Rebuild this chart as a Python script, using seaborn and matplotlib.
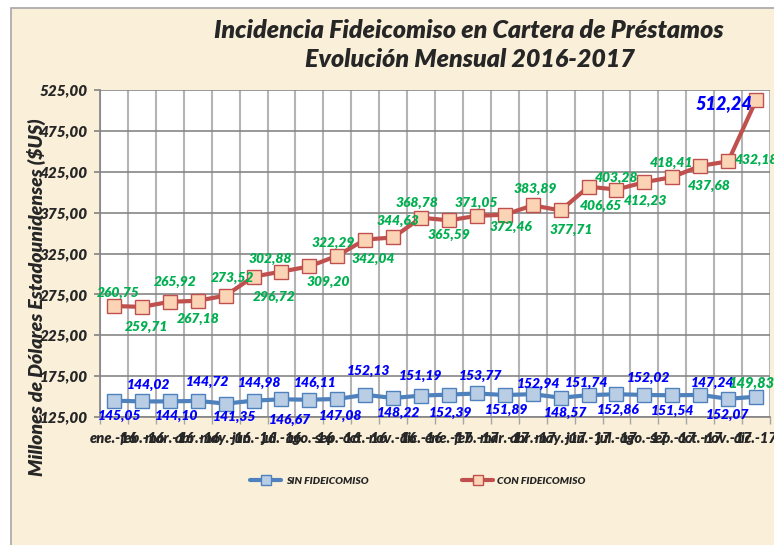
import matplotlib
matplotlib.use('Agg')
import matplotlib.pyplot as plt
from matplotlib.patches import Rectangle
from matplotlib.ticker import FixedLocator, FuncFormatter
import numpy as np
import pandas as pd
import seaborn as sns

# ----- Data -----

months = ['ene.-16', 'feb.-16', 'mar.-16', 'abr.-16', 'may.-16', 'jun.-16',
          'jul.-16', 'ago.-16', 'sep.-16', 'oct.-16', 'nov.-16', 'dic.-16',
          'ene.-17', 'feb.-17', 'mar.-17', 'abr.-17', 'may.-17', 'jun.-17',
          'jul.-17', 'ago.-17', 'sep.-17', 'oct.-17', 'nov.-17', 'dic.-17']

sin_fideicomiso = [145.05, 144.02, 144.10, 144.72, 141.35, 144.98, 146.67, 146.11,
                   147.08, 152.13, 148.22, 151.19, 152.39, 153.77, 151.89, 152.94,
                   148.57, 151.74, 152.86, 152.02, 151.54, 152.07, 147.24, 149.83]

con_fideicomiso = [260.75, 259.71, 265.92, 267.18, 273.52, 296.72, 302.88, 309.20,
                   322.29, 342.04, 344.63, 368.78, 365.59, 371.05, 372.46, 383.89,
                   377.71, 406.65, 403.28, 412.23, 418.41, 432.18, 437.68, 512.24]

y_ticks = [125, 175, 225, 275, 325, 375, 425, 475, 525]

# ----- Label placement (pixel offsets from each point) -----

con_offsets = [(4, 13), (5, -20), (5, 20), (1, -18), (7, 18), (21, -20), (-11, 13), (19, -16),
               (-4, 13), (8, -19), (5, 17), (-4, 15), (0, -15), (-1, 13), (6, -12), (3, 16),
               (11, -20), (12, -19), (0, 12), (1, -19), (-1, 14), (56, 6), (-19, -25), (-32, -3)]

sin_offsets = [(6, -15), (7, 17), (7, -15), (10, 19), (9, -13), (6, 18), (8, -21), (6, 17),
               (3, -17), (3, 24), (5, -15), (-1, 20), (2, -18), (4, 18), (2, -15), (6, 10),
               (5, -15), (-2, 12), (2, -16), (4, 17), (0, -16), (27, -20), (-16, 16), (-4, 14)]

# ----- Style -----

sns.set_theme(style = 'white')
plt.rcParams['font.family'] = ['Lato', 'DejaVu Sans']
plt.rcParams['font.style'] = 'italic'
plt.rcParams['font.weight'] = 'heavy'

W, H = 774, 545
fig = plt.figure(figsize = (W / 100, H / 100), dpi = 100)
fig.patch.set_facecolor('white')

# parchment background with grey frame
fig.patches.append(Rectangle((11 / W, -0.01), 1.0, 1 - 8 / H + 0.01, transform = fig.transFigure,
                             facecolor = '#FAF0DA', edgecolor = '#A6A6A6', linewidth = 1.2, zorder = -5))

ax = fig.add_axes([100 / W, (H - 417) / H, 670 / W, 327 / H])
ax.set_facecolor('white')

x = np.arange(len(months))
df_sin = pd.DataFrame({'x': x, 'valor': sin_fideicomiso})
df_con = pd.DataFrame({'x': x, 'valor': con_fideicomiso})

sns.lineplot(data = df_sin, x = 'x', y = 'valor', ax = ax, color = '#4F81BD', linewidth = 3,
             marker = 's', markersize = 10, markerfacecolor = '#B9CDE5', markeredgecolor = '#4F81BD',
             markeredgewidth = 1, label = 'SIN FIDEICOMISO', zorder = 4, clip_on = False)
sns.lineplot(data = df_con, x = 'x', y = 'valor', ax = ax, color = '#C0504D', linewidth = 3,
             marker = 's', markersize = 10, markerfacecolor = '#FBD3B5', markeredgecolor = '#C0504D',
             markeredgewidth = 1, label = 'CON FIDEICOMISO', zorder = 4, clip_on = False)

# -- Data labels --

for i, (v, (dx, dy)) in enumerate(zip(con_fideicomiso, con_offsets)):
    last = i == len(con_fideicomiso) - 1
    ax.annotate(f'{v:.2f}'.replace('.', ','), (x[i], v), xytext = (dx, dy), textcoords = 'offset pixels',
                ha = 'center', va = 'center', fontsize = 13 if last else 10,
                color = '#0000FF' if last else '#00B050', fontweight = 'heavy', fontstyle = 'italic',
                zorder = 6, annotation_clip = False)

for i, (v, (dx, dy)) in enumerate(zip(sin_fideicomiso, sin_offsets)):
    last = i == len(sin_fideicomiso) - 1
    ax.annotate(f'{v:.2f}'.replace('.', ','), (x[i], v), xytext = (dx, dy), textcoords = 'offset pixels',
                ha = 'center', va = 'center', fontsize = 10.5 if last else 10,
                color = '#00B050' if last else '#0000FF', fontweight = 'heavy', fontstyle = 'italic',
                zorder = 6, annotation_clip = False)

# -- Axes --

ax.set_xlim(-0.5, len(months) - 0.5)
ax.set_ylim(y_ticks[0], y_ticks[-1])
ax.set_yticks(y_ticks)
ax.yaxis.set_major_formatter(FuncFormatter(lambda v, p: f'{v:.2f}'.replace('.', ',')))
ax.set_xticks(x)
ax.set_xticklabels(months)
ax.xaxis.set_minor_locator(FixedLocator(np.arange(-0.5, len(months), 1.0)))

ax.tick_params(axis = 'y', which = 'major', length = 4, color = '#868686', labelsize = 11, pad = 5, left = True)
ax.tick_params(axis = 'x', which = 'major', length = 0, labelsize = 10.5, pad = 11)
ax.tick_params(axis = 'x', which = 'minor', length = 5, color = '#A6A6A6', bottom = True)
for lbl in ax.get_xticklabels() + ax.get_yticklabels():
    lbl.set_fontweight('heavy')

ax.grid(axis = 'y', which = 'major', color = '#868686', linewidth = 1.2)
ax.grid(axis = 'x', which = 'minor', color = '#B4B4B4', linewidth = 1.5)
ax.set_axisbelow(True)

for side in ['top', 'right']:
    ax.spines[side].set_visible(False)
ax.spines['left'].set_color('#868686')
ax.spines['bottom'].set_color('#868686')

ax.set_xlabel('')
ax.set_ylabel('Millones de Dólares Estadounidenses ($US)', fontsize = 14, fontweight = 'heavy')
ax.yaxis.set_label_coords(-54 / 670, (417 - 297) / 327)

# -- Title --

fig.text(469 / W, 1 - 30 / H, 'Incidencia Fideicomiso en Cartera de Préstamos', ha = 'center', va = 'center',
         fontsize = 18, fontweight = 'heavy')
fig.text(470 / W, 1 - 59 / H, 'Evolución Mensual 2016-2017', ha = 'center', va = 'center',
         fontsize = 18, fontweight = 'heavy')

# -- Legend --

ax.get_legend().remove()
handles, labels = ax.get_legend_handles_labels()
fig.legend(handles, labels, loc = 'center', bbox_to_anchor = (418 / W, 1 - 481 / H), ncol = 2,
           frameon = False, prop = {'size': 7.5, 'weight': 'heavy', 'style': 'italic'},
           handlelength = 3.0, handletextpad = 0.4, columnspacing = 9.0, markerscale = 0.65)

fig.savefig('out.png', dpi = 100)
